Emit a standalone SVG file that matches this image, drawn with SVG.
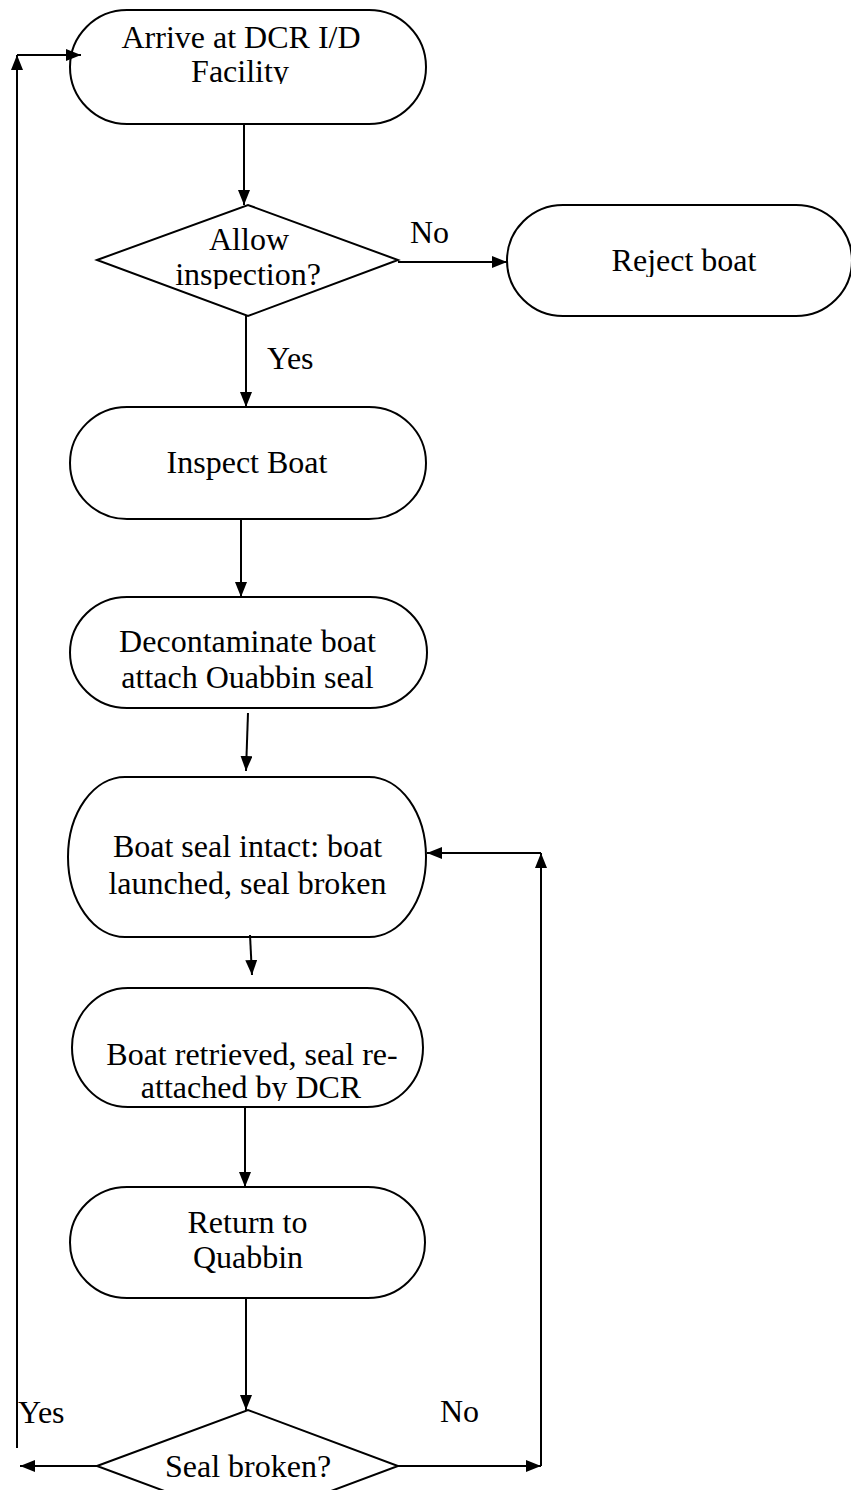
<svg xmlns="http://www.w3.org/2000/svg" width="851" height="1490" viewBox="0 0 851 1490">
<style>
.n{fill:#fff;stroke:#000;stroke-width:2}
.t{font-family:"Liberation Serif","Times New Roman",serif;font-size:32px;fill:#000;text-anchor:middle}
.l{font-family:"Liberation Serif","Times New Roman",serif;font-size:32px;fill:#000}
.c{fill:none;stroke:#000;stroke-width:2}
</style>
<defs>
<marker id="ah" viewBox="0 0 15 12" refX="15" refY="6" markerWidth="15" markerHeight="12" markerUnits="userSpaceOnUse" orient="auto">
<path d="M0,0 L15,6 L0,12 Z" fill="#000"/>
</marker>
<clipPath id="k1"><rect x="0" y="0" width="851" height="84"/></clipPath>
<clipPath id="k2"><rect x="0" y="0" width="851" height="289"/></clipPath>
<clipPath id="k3"><rect x="0" y="0" width="851" height="277"/></clipPath>
<clipPath id="k4"><rect x="0" y="0" width="851" height="1101"/></clipPath>
</defs>
<rect x="0" y="0" width="851" height="1490" fill="#fff"/>
<g id="n1">
<rect class="n" x="70" y="10" width="356" height="114" rx="57" ry="57"/>
<text class="t" x="241" y="48">Arrive at DCR I/D</text>
<text class="t" x="240" y="82" clip-path="url(#k1)">Facility</text>
</g>
<g id="d1">
<polygon class="n" points="97,260 248,205 398,260 248,316"/>
<text class="t" x="249" y="250">Allow</text>
<text class="t" x="248" y="285" clip-path="url(#k2)">inspection?</text>
</g>
<g id="n2">
<rect class="n" x="507" y="205" width="345" height="111" rx="56" ry="55.5"/>
<text class="t" x="684" y="271" clip-path="url(#k3)">Reject boat</text>
</g>
<g id="n3">
<rect class="n" x="70" y="407" width="356" height="112" rx="57" ry="56"/>
<text class="t" x="247" y="473">Inspect Boat</text>
</g>
<g id="n4">
<rect class="n" x="70" y="597" width="357" height="111" rx="57" ry="55.5"/>
<text class="t" x="247.5" y="652">Decontaminate boat</text>
<text class="t" x="247.5" y="688">attach Ouabbin seal</text>
</g>
<g id="n5">
<rect class="n" x="68" y="777" width="358" height="160" rx="57" ry="80"/>
<text class="t" x="247.5" y="857">Boat seal intact: boat</text>
<text class="t" x="247.5" y="894">launched, seal broken</text>
</g>
<g id="n6">
<rect class="n" x="72" y="988" width="351" height="119" rx="56" ry="59.5"/>
<text class="t" x="252" y="1065">Boat retrieved, seal re-</text>
<text class="t" x="251" y="1098" clip-path="url(#k4)">attached by DCR</text>
</g>
<g id="n7">
<rect class="n" x="70" y="1187" width="355" height="111" rx="57" ry="55.5"/>
<text class="t" x="247.5" y="1233">Return to</text>
<text class="t" x="248" y="1268">Quabbin</text>
</g>
<g id="d2">
<polygon class="n" points="97,1466 248,1410 398,1466 248,1522"/>
<text class="t" x="248" y="1477">Seal broken?</text>
</g>
<g id="connectors">
<line class="c" x1="17" y1="1448" x2="17" y2="55" marker-end="url(#ah)"/>
<line class="c" x1="17" y1="55" x2="81" y2="55" marker-end="url(#ah)"/>
<line class="c" x1="244" y1="124" x2="244" y2="205" marker-end="url(#ah)"/>
<line class="c" x1="398" y1="262" x2="507" y2="262" marker-end="url(#ah)"/>
<line class="c" x1="246" y1="316" x2="246" y2="407" marker-end="url(#ah)"/>
<line class="c" x1="241" y1="519" x2="241" y2="597" marker-end="url(#ah)"/>
<line class="c" x1="248" y1="713" x2="246" y2="771" marker-end="url(#ah)"/>
<line class="c" x1="250" y1="935" x2="252" y2="975" marker-end="url(#ah)"/>
<line class="c" x1="245" y1="1107" x2="245" y2="1187" marker-end="url(#ah)"/>
<line class="c" x1="246" y1="1298" x2="246" y2="1410" marker-end="url(#ah)"/>
<line class="c" x1="398" y1="1466" x2="541" y2="1466" marker-end="url(#ah)"/>
<line class="c" x1="541" y1="1466" x2="541" y2="853" marker-end="url(#ah)"/>
<line class="c" x1="541" y1="853" x2="427" y2="853" marker-end="url(#ah)"/>
<line class="c" x1="97" y1="1466" x2="20" y2="1466" marker-end="url(#ah)"/>
<text class="l" x="410" y="243">No</text>
<text class="l" x="267" y="369">Yes</text>
<text class="l" x="440" y="1422">No</text>
<text class="l" x="18" y="1423">Yes</text>
</g>
</svg>
